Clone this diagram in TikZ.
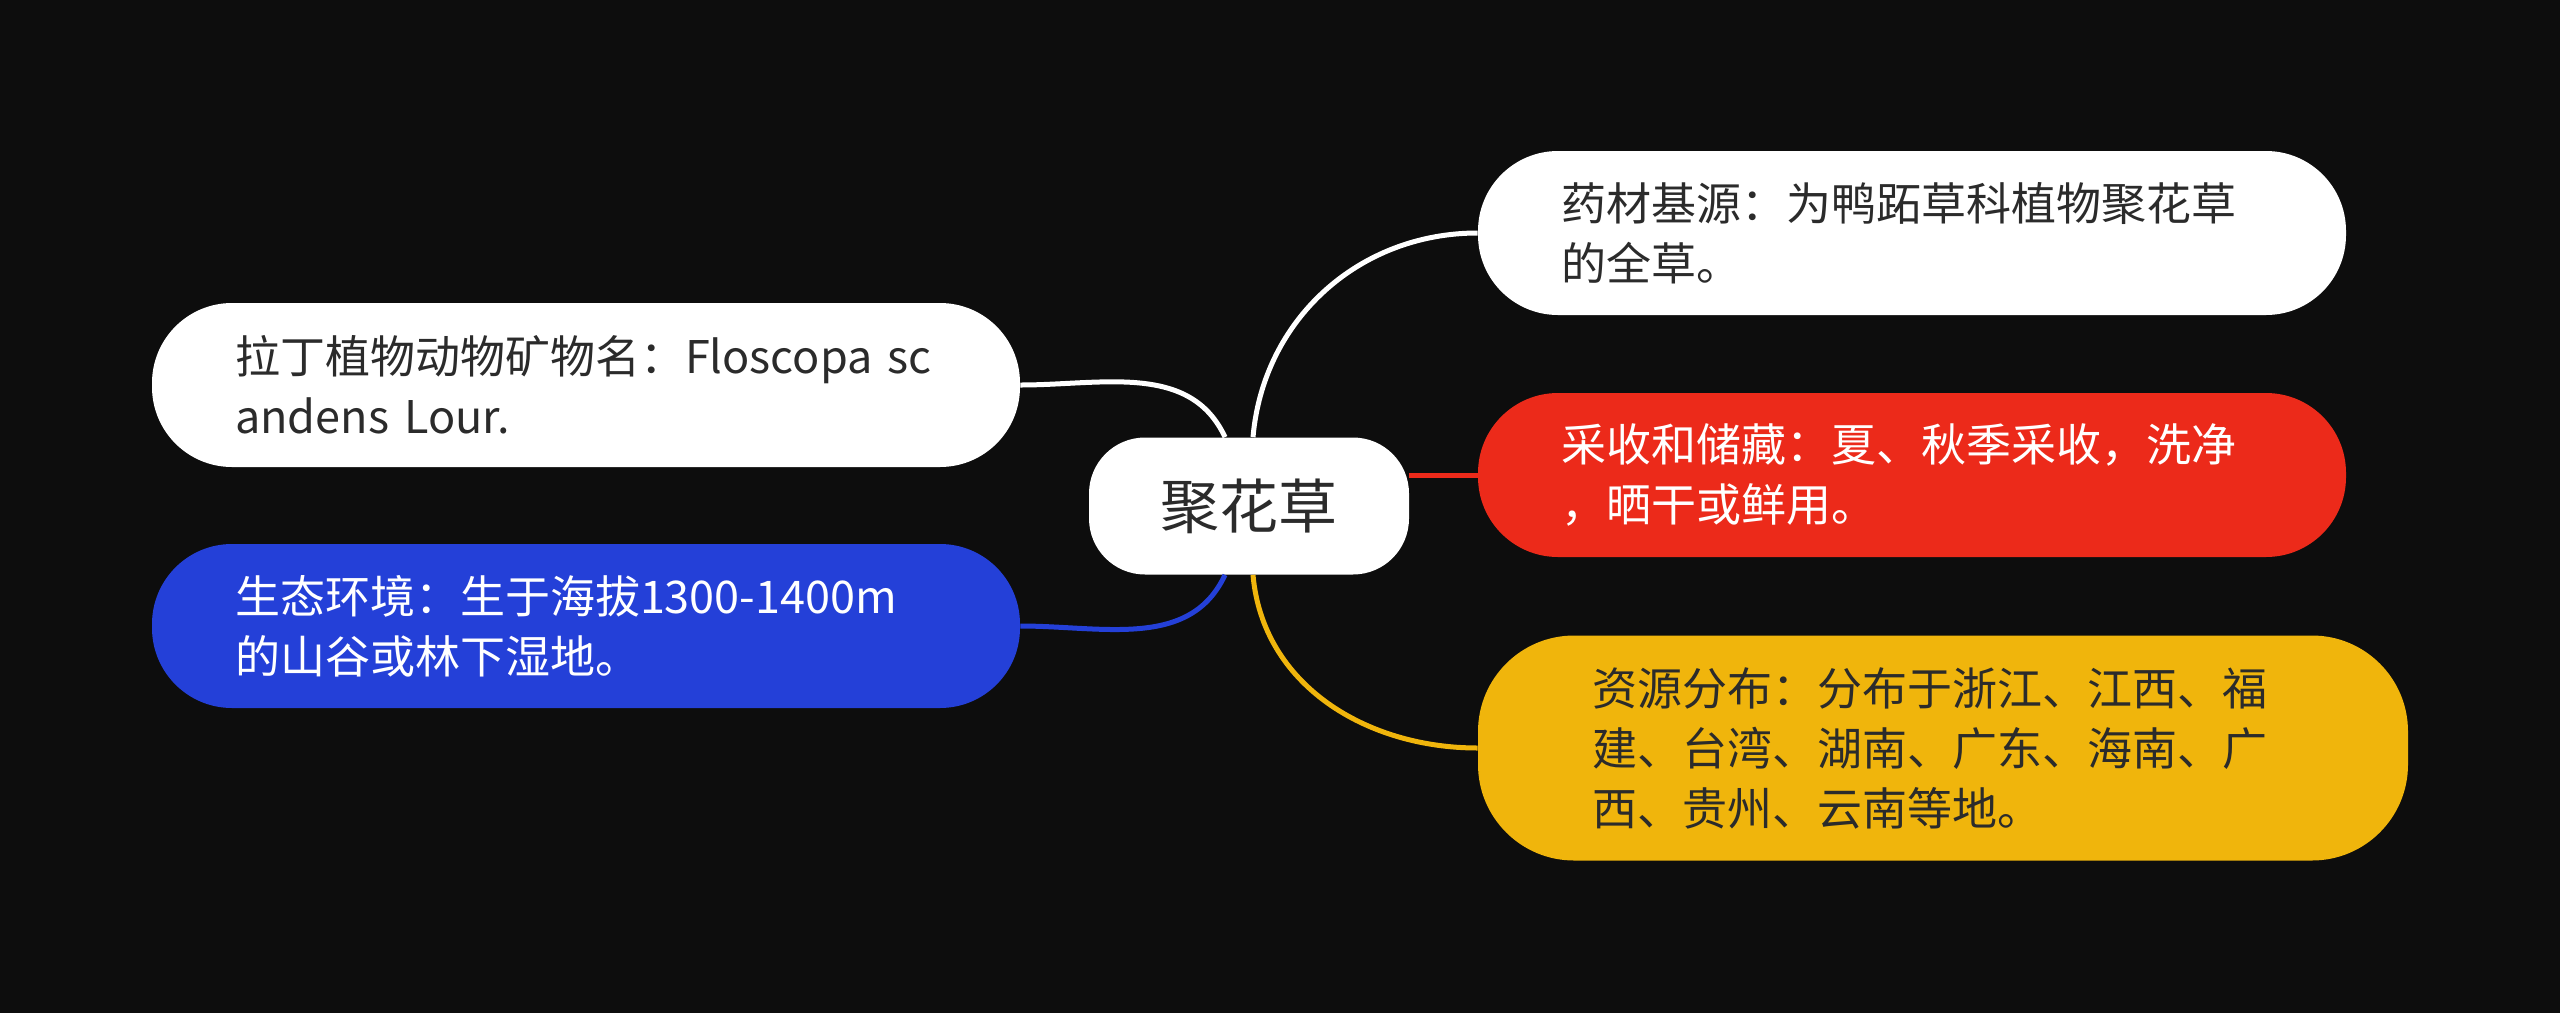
\documentclass[tikz,border=0pt]{standalone}
\usepackage{fontspec}
\setmainfont{Noto Sans CJK SC}
\usetikzlibrary{positioning}
\definecolor{bgdark}{HTML}{0D0D0D}
\definecolor{inkdark}{HTML}{2B2B2B}
\definecolor{topicred}{HTML}{EC2A1A}
\definecolor{topicblue}{HTML}{2440D8}
\definecolor{topicyellow}{HTML}{F0B50C}

\begin{document}
\begin{tikzpicture}[
			x=0.5pt,y=-0.5pt,
			topic/.style={
				rounded corners=40pt,
				align=left,
				inner sep=0pt,
				text width=351pt,
				font=\fontsize{22.5}{30}\selectfont,
				minimum width=434pt,
				minimum height=82pt
			},
			link/.style={line width=2.5pt}
			]
			
			\fill[bgdark] (0,0) rectangle (2560,1013);
			\useasboundingbox (0,0) rectangle (2560,1013);
			
			\node[fill=white,text=inkdark,rounded corners=28pt,inner sep=0pt,
			minimum width=160pt,minimum height=68.5pt,
			font=\fontsize{29.5}{36}\selectfont] (root) at (1249,506) {聚花草};
			
			\node[topic,fill=white,text=inkdark] (source) at (1912,233)
			{药材基源：为鸭跖草科植物聚花草\\的全草。};
			
			\node[topic,fill=topicred,text=white] (harvest) at (1912,475)
			{采收和储藏：夏、秋季采收，洗净\\，晒干或鲜用。};
			
			\node[topic,fill=topicyellow,text=inkdark,rounded corners=48pt,
			minimum width=465pt,minimum height=112.5pt] (range) at (1943,748)
			{资源分布：分布于浙江、江西、福\\建、台湾、湖南、广东、海南、广\\西、贵州、云南等地。};
			
			\node[topic,fill=white,text=inkdark] (latin) at (586,385)
			{拉丁植物动物矿物名：Floscopa sc\\andens Lour.};
			
			\node[topic,fill=topicblue,text=white] (habitat) at (586,626)
			{生态环境：生于海拔1300-1400m\\的山谷或林下湿地。};
			
			\draw[link,white] ([xshift=2pt]root.north) to[out=85,in=180] (source.west);
			\draw[link,topicred] (root.east |- harvest.west) -- (harvest.west);
			\draw[link,topicyellow] ([xshift=2pt]root.south) to[out=-85,in=180] (range.west);
			\draw[link,white] (latin.east) to[out=0,in=115] ([xshift=-12pt]root.north);
			\draw[link,topicblue] (habitat.east) to[out=0,in=-115] ([xshift=-12pt]root.south);
			
		\end{tikzpicture}
\end{document}
